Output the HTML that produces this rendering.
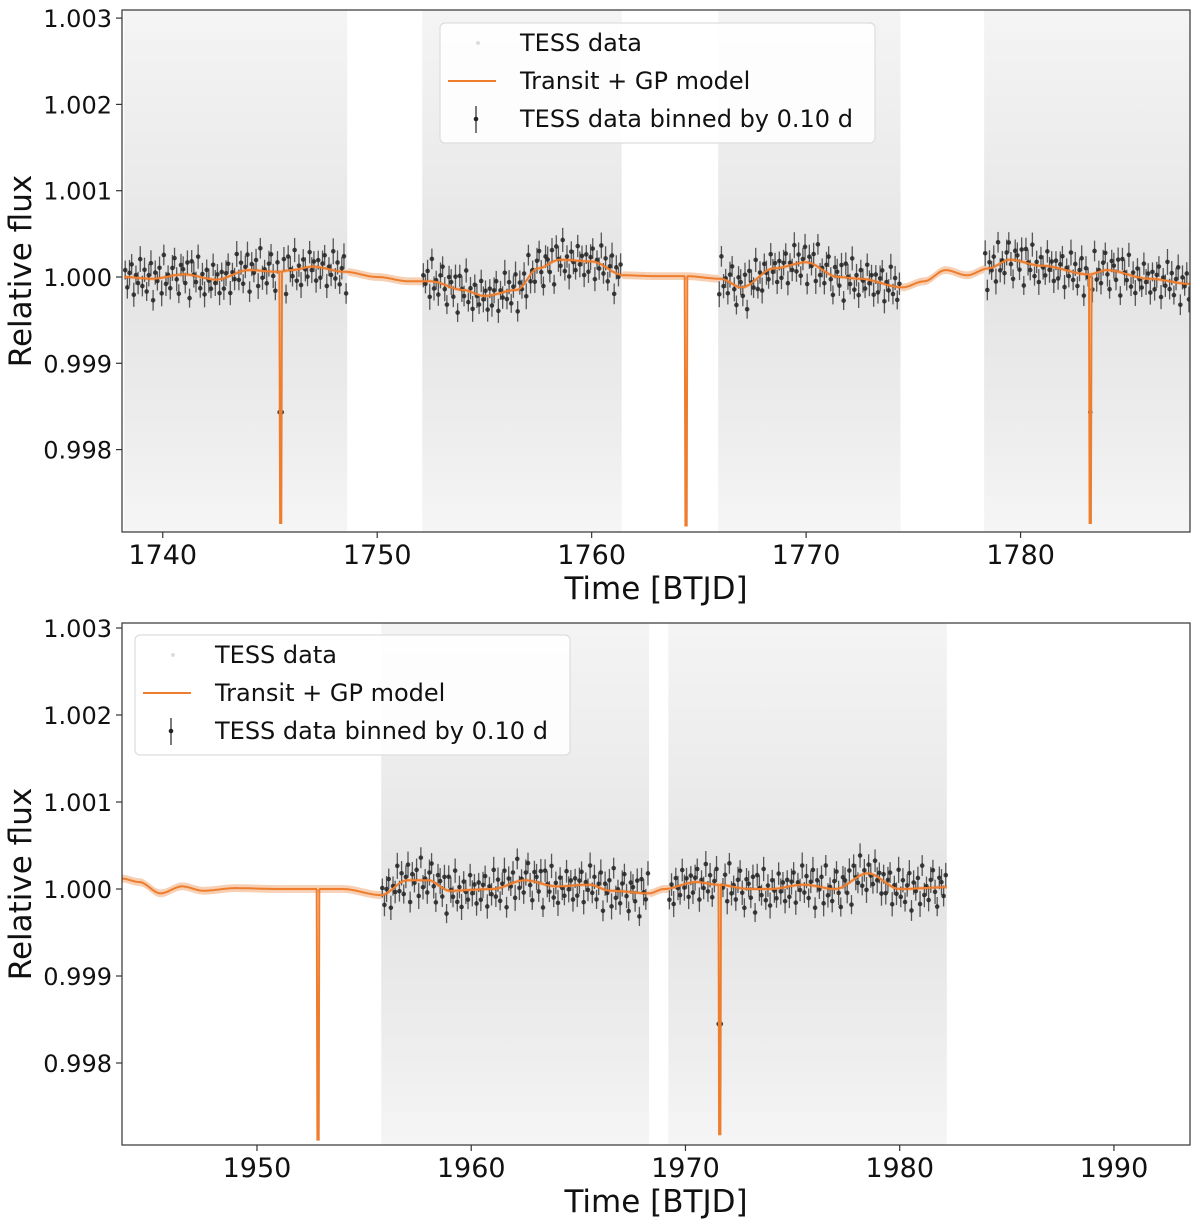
<!DOCTYPE html>
<html><head><meta charset="utf-8">
<style>
body{margin:0;background:#fff;font-family:"Liberation Sans","DejaVu Sans",sans-serif;}
svg text{font-family:"DejaVu Sans","Liberation Sans",sans-serif;fill:#111;}
</style></head>
<body>
<svg id="chart" width="1200" height="1226" viewBox="0 0 1200 1226" xmlns="http://www.w3.org/2000/svg">
<defs>
<linearGradient id="scatterGrad" x1="0" y1="0" x2="0" y2="1">
<stop offset="0" stop-color="#d4d4d4" stop-opacity="0.25"/>
<stop offset="0.25" stop-color="#d4d4d4" stop-opacity="0.42"/>
<stop offset="0.52" stop-color="#d0d0d0" stop-opacity="0.58"/>
<stop offset="0.8" stop-color="#d4d4d4" stop-opacity="0.42"/>
<stop offset="1" stop-color="#d4d4d4" stop-opacity="0.22"/>
</linearGradient>
</defs>
</svg>
<script>
// ---- data: top panel (sector 1) ----
const topModelT = [1738.2,1739.5,1741,1742.5,1744,1745.4,1746,1747,1748.5,1750,1751.5,1752.5,1754,1755,1756.5,1757.5,1758.5,1760,1761.5,1763,1764.4,1766,1767,1768.5,1770,1771.5,1772.5,1774.5,1775.5,1776.5,1777.5,1778.5,1779.5,1781,1783.2,1784,1786,1787.9];
const topModelF = [1.00000,0.99998,1.00003,0.99997,1.00008,1.00006,1.00008,1.00012,1.00006,1.00000,0.99995,0.99995,0.99985,0.99978,0.99985,1.00010,1.00020,1.00018,1.00002,1.00001,1.00001,0.99998,0.99988,1.00010,1.00017,1.00000,0.99998,0.99988,0.99995,1.00008,1.00002,1.00010,1.00020,1.00013,1.00003,1.00008,0.99998,0.99992];
const topTransits = [1745.5,1764.4,1783.25];
const topTransitMin = [0.99715,0.99712,0.99715];
const topDataSegs = [[1738.2,1748.6],[1752.1,1761.4],[1765.9,1774.4],[1778.3,1787.9]];
// ---- data: bottom panel (sector 2) ----
const botModelT = [1943.7,1944.5,1945.5,1946.5,1947.5,1949,1951,1952.7,1954,1955.8,1957,1958,1959,1961,1962.5,1964,1965.5,1966.5,1968.3,1969,1970.5,1971.5,1973,1974,1975.5,1977,1978.5,1980,1982.2];
const botModelF = [1.00012,1.00008,0.99995,1.00003,0.99998,1.00001,1.00000,1.00000,1.00000,0.99993,1.00010,1.00010,0.99998,1.00000,1.00010,1.00003,1.00005,0.99998,0.99995,1.00000,1.00008,1.00005,1.00000,1.00000,1.00005,1.00000,1.00018,1.00000,1.00002];
const botTransits = [1952.85,1971.6];
const botTransitMin = [0.99712,0.99718];
const botDataSegs = [[1955.8,1968.3],[1969.2,1982.2]];
// residuals of binned points (units of 1e-5)
const binResid = [8,-12,5,15,-20,3,-6,22,-9,10,-15,4,18,-25,7,-3,12,-18,26,-8,2,-14,9,20,-5,-22,11,6,-10,14,-27,16,1,-7,23,-13,4,-19,10,-2,-11,17,-4,6,-16];
const topXTicks = [1740,1750,1760,1770,1780];
const botXTicks = [1950,1960,1970,1980,1990];
const yTicks = [0.998,0.999,1.000,1.001,1.002,1.003];
const yTickLabels = ["0.998","0.999","1.000","1.001","1.002","1.003"];

const NS="http://www.w3.org/2000/svg";
const svg=document.getElementById('chart');
function mk(tag,attrs,parent){const e=document.createElementNS(NS,tag);for(const k in attrs)e.setAttribute(k,attrs[k]);(parent||svg).appendChild(e);return e;}

function panel(cfg){
  const L=122,R=1190,T=cfg.top,B=cfg.bottom;
  const xs=t=>L+(t-cfg.x0)/(cfg.x1-cfg.x0)*(R-L);
  const ys=f=>cfg.y1000+(1-f)/0.001*cfg.pxPerMilli;
  const g=mk('g',{});
  
  
  const clipId=cfg.name+'-clip';
  const cp=mk('clipPath',{id:clipId},g);mk('rect',{x:L,y:T,width:R-L,height:B-T},cp);
  const plot=mk('g',{'clip-path':'url(#'+clipId+')'},g);
  cfg.segs.forEach(s=>{
    const r=mk('rect',{x:xs(s[0]),y:ys(1.0031),width:xs(s[1])-xs(s[0]),height:ys(0.99705)-ys(1.0031),fill:'url(#scatterGrad)'},plot);
    
    
  });
  const mt=cfg.mt,mf=cfg.mf;
  const tStart=mt[0],tEnd=mt[mt.length-1];
  const interp=t=>{if(t<=mt[0])return mf[0];for(let i=1;i<mt.length;i++){if(t<=mt[i]){const a=(t-mt[i-1])/(mt[i]-mt[i-1]);const s=a*a*(3-2*a);return mf[i-1]+(mf[i]-mf[i-1])*s;}}return mf[mf.length-1];};
  const inData=t=>cfg.segs.some(s=>t>=s[0]&&t<=s[1]);
  const step=0.05;let up=[],dn=[];
  for(let t=tStart;t<=tEnd+1e-9;t+=step){const w=inData(t)?0.000022:0.000045;const f=interp(t);up.push([xs(t),ys(f+w)]);dn.push([xs(t),ys(f-w)]);}
  const bandD='M'+up.map(p=>p.join(',')).join('L')+'L'+dn.reverse().map(p=>p.join(',')).join('L')+'Z';
  const band=mk('path',{d:bandD,fill:'#f2b58a',opacity:0.65},plot);
  
  
  let k=0;
  cfg.segs.forEach(s=>{
    for(let t=s[0]+0.05;t<s[1];t+=0.1){
      let f=interp(t)+binResid[k%binResid.length]*1e-5;
      cfg.tr.forEach((tt,j)=>{if(Math.abs(t-tt)<0.07)f=1-(1-cfg.tmin[j])*0.55;});
      const e=0.00011+((k*7)%5)*0.00001;
      const ln=mk('line',{x1:xs(t),x2:xs(t),y1:ys(f+e),y2:ys(f-e),stroke:'#333',"stroke-width":1.3,opacity:0.8},plot);
      
      
      const c=mk('circle',{cx:xs(t),cy:ys(f),r:2.3,fill:'#222',opacity:0.85},plot);
      
      
      k++;
    }
  });
  let pts=[];
  for(let t=tStart;t<=tEnd+1e-9;t+=step){
    let near=-1;cfg.tr.forEach((tt,j)=>{if(Math.abs(t-tt)<step/2)near=j;});
    if(near>=0){const tt=cfg.tr[near];const f=interp(tt);pts.push([xs(tt-0.06),ys(f)]);pts.push([xs(tt-0.03),ys(cfg.tmin[near])]);pts.push([xs(tt+0.03),ys(cfg.tmin[near])]);pts.push([xs(tt+0.06),ys(f)]);}
    else pts.push([xs(t),ys(interp(t))]);
  }
  const ml=mk('path',{d:'M'+pts.map(p=>p[0].toFixed(1)+','+p[1].toFixed(1)).join('L'),fill:'none',stroke:'#ee7d2e','stroke-width':2},plot);
  
  
  const fr=mk('rect',{x:L,y:T,width:R-L,height:B-T,fill:'none',stroke:'#333','stroke-width':1.2},g);
  
  
  cfg.xt.forEach(v=>{
    const x=xs(v);
    mk('line',{x1:x,x2:x,y1:B,y2:B+6,stroke:'#333','stroke-width':1.2},g);
    const tx=mk('text',{x:x,y:B+32,'text-anchor':'middle','font-size':27},g);tx.textContent=v;
    
    
  });
  yTicks.forEach((v,i)=>{
    const y=ys(v);
    mk('line',{x1:L-6,x2:L,y1:y,y2:y,stroke:'#333','stroke-width':1.2},g);
    const tx=mk('text',{x:L-10,y:y+9,'text-anchor':'end','font-size':24},g);tx.textContent=yTickLabels[i];
    
    
  });
  const xl=mk('text',{x:(L+R)/2,y:B+67,'text-anchor':'middle','font-size':31},g);xl.textContent='Time [BTJD]';
  
  
  const yl=mk('text',{x:0,y:0,'text-anchor':'middle','font-size':31,transform:'translate(31,'+((T+B)/2)+') rotate(-90)'},g);yl.textContent='Relative flux';
  
  
  const lx=cfg.lx,ly=cfg.ly;
  const lg=mk('g',{},g);
  
  
  mk('rect',{x:lx,y:ly,width:435,height:120,rx:5,fill:'#fff','fill-opacity':0.85,stroke:'#ddd','stroke-width':1.2},lg);
  const names=['TESS data','Transit + GP model','TESS data binned by 0.10 d'];
  names.forEach((n,i)=>{
    const t=mk('text',{x:lx+80,y:ly+28+38*i,'font-size':24},lg);t.textContent=n;
    
    
  });
  mk('circle',{cx:lx+38,cy:ly+20,r:2,fill:'#ddd'},lg);
  mk('line',{x1:lx+8,x2:lx+56,y1:ly+58,y2:ly+58,stroke:'#ee7d2e','stroke-width':2},lg);
  mk('line',{x1:lx+36,x2:lx+36,y1:ly+83,y2:ly+110,stroke:'#333','stroke-width':1.3},lg);
  mk('circle',{cx:lx+36,cy:ly+96,r:2.3,fill:'#222'},lg);
}
panel({name:'top-panel',top:10,bottom:532,x0:1738.1,x1:1787.9,y1000:277,pxPerMilli:86.3,mt:topModelT,mf:topModelF,tr:topTransits,tmin:topTransitMin,segs:topDataSegs,xt:topXTicks,lx:440,ly:23});
panel({name:'bottom-panel',top:623,bottom:1145,x0:1943.7,x1:1993.55,y1000:889,pxPerMilli:87,mt:botModelT,mf:botModelF,tr:botTransits,tmin:botTransitMin,segs:botDataSegs,xt:botXTicks,lx:135,ly:635});
</script>
</body></html>
